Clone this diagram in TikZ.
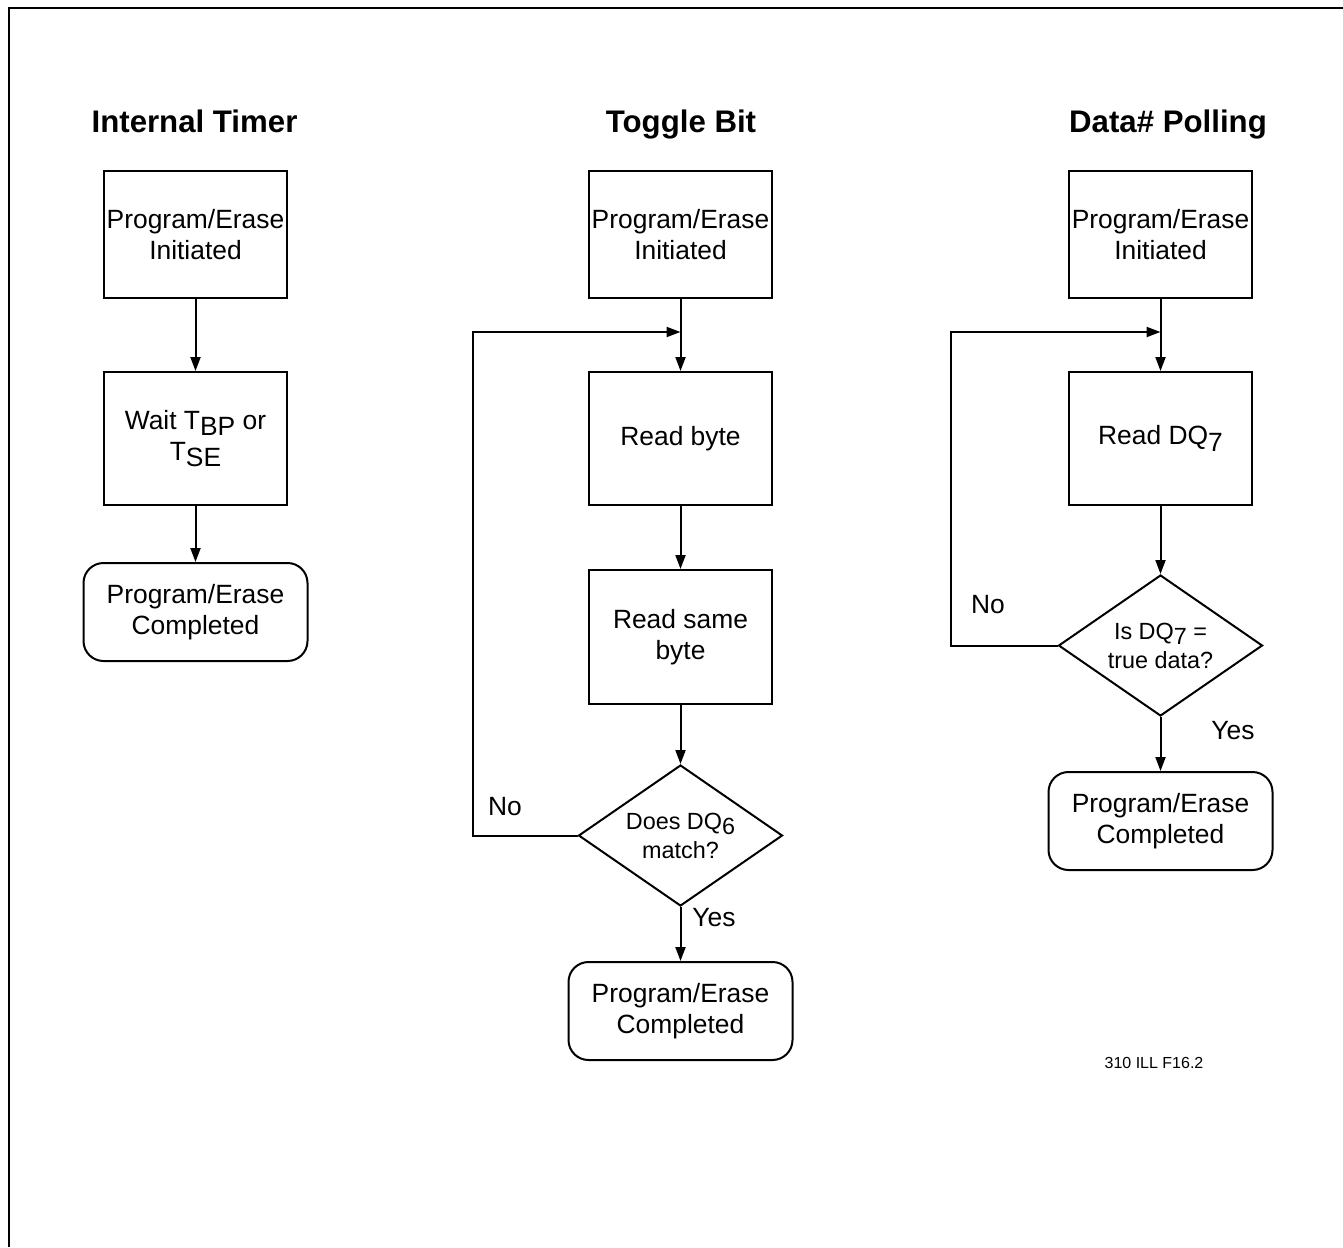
\documentclass[tikz,border=0pt]{standalone}
\usepackage{fontspec}
\setmainfont{Liberation Sans}
\usetikzlibrary{shapes.geometric,arrows.meta}
\newcommand{\lowsub}[1]{\raisebox{-0.45ex}{#1}}
\begin{document}
\begin{tikzpicture}[
  x=0.5pt,y=-0.5pt,
  pbox/.style={
    draw,
    line width=1pt,
    minimum width=91.5pt,
    minimum height=63.5pt,
    inner sep=0pt,
    align=center,
    font=\fontsize{13.2}{15.5}\selectfont
  },
  donebox/.style={
    pbox,
    rounded corners=10pt,
    minimum width=112pt,
    minimum height=49pt
  },
  decision/.style={
    diamond,
    draw,
    line width=1pt,
    aspect=1.45,
    minimum width=102pt,
    minimum height=70.5pt,
    inner sep=0pt,
    align=center,
    font=\fontsize{11.7}{14.5}\selectfont
  },
  title/.style={anchor=base,font=\fontsize{15.6}{18}\selectfont\bfseries},
  lbl/.style={font=\fontsize{13.2}{15.5}\selectfont},
  arr/.style={line width=1pt,-{Triangle[length=7pt,width=5pt]}}
]
\useasboundingbox (0,0) rectangle (1343,1247);
\draw[line width=1.3pt] (9,1247) -- (9,8) -- (1343,8);
\node[title] (ttimer) at (194.5,133) {Internal Timer};
\node[title] (ttoggle) at (681,133) {Toggle Bit};
\node[title] (tpoll) at (1168,133) {Data\# Polling};
\node[pbox] (ib1) at (195.5,234.5) {Program/Erase\\Initiated};
\node[pbox,minimum height=66.5pt] (ib2) at (195.5,438.5) {Wait T\lowsub{BP} or\\T\lowsub{SE}};
\node[donebox] (idone) at (195.5,612) {Program/Erase\\Completed};
\draw[arr] (ib1) -- (ib2);
\draw[arr] (ib2) -- (idone);
\node[pbox] (tb1) at (680.5,234.5) {Program/Erase\\Initiated};
\node[pbox,minimum height=66.5pt] (tb2) at (680.5,438.5) {Read byte};
\node[pbox,minimum height=67pt] (tb3) at (680.5,637) {Read same\\byte};
\node[decision] (tdec) at (680.5,835.5) {Does DQ\lowsub{6}\\match?};
\node[donebox] (tdone) at (680.5,1011) {Program/Erase\\Completed};
\coordinate (tmerge) at (680.5,332);
\draw[arr] (tb1) -- (tb2);
\draw[arr] (tb2) -- (tb3);
\draw[arr] (tb3) -- (tdec);
\draw[arr] (tdec) -- (tdone);
\draw[arr] (tdec.west) -- ++(-105,0) |- (tmerge);
\node[lbl] (tno) at (505,807) {No};
\node[lbl] (tyes) at (714,918) {Yes};
\node[pbox] (db1) at (1160.5,234.5) {Program/Erase\\Initiated};
\node[pbox,minimum height=66.5pt] (db2) at (1160.5,438.5) {Read DQ\lowsub{7}};
\node[decision] (ddec) at (1160.5,645.5) {Is DQ\lowsub{7} =\\true data?};
\node[donebox] (ddone) at (1160.5,821) {Program/Erase\\Completed};
\coordinate (dmerge) at (1160.5,332);
\draw[arr] (db1) -- (db2);
\draw[arr] (db2) -- (ddec);
\draw[arr] (ddec) -- (ddone);
\draw[arr] (ddec.west) -- ++(-107,0) |- (dmerge);
\node[lbl] (dno) at (988,605) {No};
\node[lbl] (dyes) at (1233,731) {Yes};
\node[font=\fontsize{8}{10}\selectfont] (fig) at (1154,1063) {310 ILL F16.2};
\end{tikzpicture}
\end{document}
